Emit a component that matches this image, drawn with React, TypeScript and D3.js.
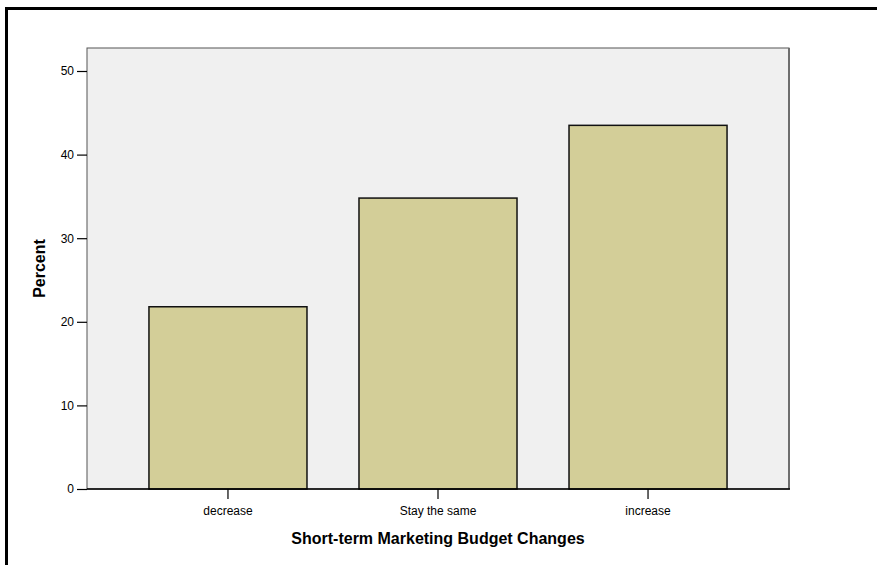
import React, { ReactElement, useEffect, useRef } from "react";
import * as d3 from "d3";

// values
const categories = ["decrease", "Stay the same", "increase"];
const percents = [21.8, 34.8, 43.5];
const yTicks = [0, 10, 20, 30, 40, 50];

const W = 877;
const H = 565;

function BarChart(): ReactElement {
  const ref = useRef<SVGSVGElement>(null);

  useEffect(() => {
    drawChart();
  });

  const drawChart = () => {
    const svg = d3.select(ref.current);
    svg.selectAll("*").remove();

    const left = 87; // plot frame
    const right = 789;
    const top = 48;
    const bottom = 489;

    const x = d3
      .scaleBand()
      .domain(categories)
      .range([left, right])
      .paddingInner(0.2476)
      .paddingOuter(0.295);
    const y = d3.scaleLinear().domain([0, 50]).range([bottom, 71]);

    // outer frame (top + left only are visible)
    svg
      .append("path")
      .attr("d", `M6.5,${H} V8.5 H${W}`)
      .attr("fill", "none")
      .attr("stroke", "#000")
      .attr("stroke-width", 3);

    // plot background
    svg
      .append("rect")
      .attr("x", left)
      .attr("y", top)
      .attr("width", right - left)
      .attr("height", bottom - top)
      .attr("fill", "#f0f0f0")
      .attr("stroke", "#555")
      .attr("stroke-width", 1);
    svg
      .append("line")
      .attr("x1", right)
      .attr("x2", right)
      .attr("y1", top)
      .attr("y2", bottom)
      .attr("stroke", "#6e6e6e")
      .attr("stroke-width", 2);

    // bars
    svg
      .selectAll(".bar")
      .data(percents)
      .enter()
      .append("rect")
      .attr("class", "bar")
      .attr("x", (_d, i) => x(categories[i]) || 0)
      .attr("width", x.bandwidth())
      .attr("y", (d) => y(d))
      .attr("height", (d) => bottom - y(d))
      .attr("fill", "#d3ce98")
      .attr("stroke", "#111")
      .attr("stroke-width", 1.5);

    // bottom frame line over the bars
    svg
      .append("line")
      .attr("x1", left)
      .attr("x2", right + 1)
      .attr("y1", bottom)
      .attr("y2", bottom)
      .attr("stroke", "#000")
      .attr("stroke-width", 1.5);

    // y axis
    const yAxis = svg
      .append("g")
      .attr("transform", `translate(${left},0)`)
      .call(d3.axisLeft(y).tickValues(yTicks).tickSize(10).tickPadding(3));
    yAxis.select(".domain").remove();
    yAxis
      .selectAll("text")
      .attr("font-size", 12)
      .attr("font-family", "Arial, 'Liberation Sans', sans-serif")
      .attr("fill", "#000");
    yAxis.selectAll("line").attr("stroke", "#000").attr("stroke-width", 1.2);

    // x axis
    const xAxis = svg
      .append("g")
      .attr("transform", `translate(0,${bottom})`)
      .call(d3.axisBottom(x).tickSize(10).tickPadding(7));
    xAxis.select(".domain").remove();
    xAxis
      .selectAll("text")
      .attr("font-size", 12)
      .attr("font-family", "Arial, 'Liberation Sans', sans-serif")
      .attr("fill", "#000");
    xAxis.selectAll("line").attr("stroke", "#000").attr("stroke-width", 1.2);

    // axis titles
    svg
      .append("text")
      .attr("x", (left + right) / 2)
      .attr("y", 544)
      .attr("text-anchor", "middle")
      .attr("font-size", 16)
      .attr("font-weight", "bold")
      .attr("font-family", "Arial, 'Liberation Sans', sans-serif")
      .text("Short-term Marketing Budget Changes");
    svg
      .append("text")
      .attr("transform", `translate(45,${(top + bottom) / 2}) rotate(-90)`)
      .attr("text-anchor", "middle")
      .attr("font-size", 16)
      .attr("font-weight", "bold")
      .attr("font-family", "Arial, 'Liberation Sans', sans-serif")
      .text("Percent");
  };

  return (
    <svg
      ref={ref}
      width={W}
      height={H}
      style={{ position: "absolute", left: 0, top: 0, background: "#fff" }}
    ></svg>
  );
}

export default function App(): ReactElement {
  return <BarChart />;
}
